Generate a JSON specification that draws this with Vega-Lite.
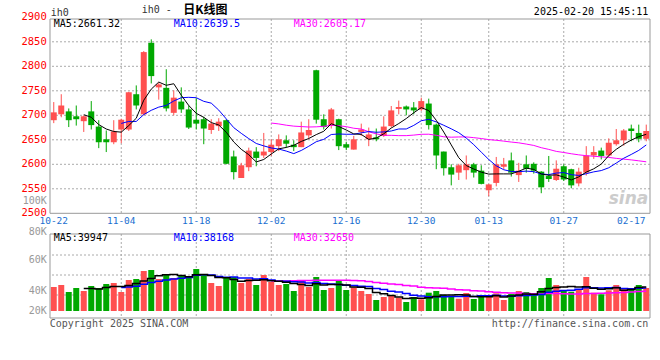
{
"$schema": "https://vega.github.io/schema/vega-lite/v6.json",
"width": 600, "height": 299,
"autosize": "none",
"padding": {"left": 50, "top": 19, "right": 10, "bottom": 42},
"background": "#ffffff",
"config": {"view": {"stroke": null}, "text": {"font": "DejaVu Sans Mono"}},
"datasets": {
"k": [
{"d":"2024-10-22","o":2690,"h":2727,"l":2684,"c":2706,"v":39720},
{"d":"2024-10-23","o":2702,"h":2743,"l":2696,"c":2720,"v":43030},
{"d":"2024-10-24","o":2708,"h":2714,"l":2676,"c":2690,"v":31445},
{"d":"2024-10-25","o":2698,"h":2720,"l":2679,"c":2692,"v":38065},
{"d":"2024-10-28","o":2688,"h":2700,"l":2666,"c":2698,"v":33100,"m5":2701.2,"vm5":37072},
{"d":"2024-10-29","o":2708,"h":2729,"l":2671,"c":2680,"v":41375,"m5":2696.0,"vm5":37403},
{"d":"2024-10-30","o":2677,"h":2690,"l":2633,"c":2645,"v":38065,"m5":2681.0,"vm5":36410},
{"d":"2024-10-31","o":2651,"h":2669,"l":2625,"c":2645,"v":44685,"m5":2672.0,"vm5":39058},
{"d":"2024-11-01","o":2645,"h":2690,"l":2641,"c":2667,"v":46340,"m5":2667.0,"vm5":40713},
{"d":"2024-11-04","o":2671,"h":2693,"l":2643,"c":2691,"v":31445,"m5":2665.6,"m10":2683.4,"vm5":40382,"vm10":38727},
{"d":"2024-11-05","o":2671,"h":2748,"l":2668,"c":2747,"v":51305,"m5":2679.0,"m10":2687.5,"vm5":42368,"vm10":39886},
{"d":"2024-11-06","o":2743,"h":2761,"l":2712,"c":2720,"v":52960,"m5":2694.0,"m10":2687.5,"vm5":45347,"vm10":40879},
{"d":"2024-11-07","o":2702,"h":2831,"l":2700,"c":2829,"v":66200,"m5":2730.8,"m10":2701.4,"vm5":49650,"vm10":44354},
{"d":"2024-11-08","o":2848,"h":2855,"l":2765,"c":2780,"v":67855,"m5":2753.4,"m10":2710.2,"vm5":53953,"vm10":47333},
{"d":"2024-11-11","o":2757,"h":2767,"l":2732,"c":2763,"v":52960,"m5":2767.8,"m10":2716.7,"vm5":58256,"vm10":49319},
{"d":"2024-11-12","o":2756,"h":2794,"l":2708,"c":2714,"v":59580,"m5":2761.2,"m10":2720.1,"vm5":59911,"vm10":51140},
{"d":"2024-11-13","o":2705,"h":2751,"l":2700,"c":2736,"v":54615,"m5":2764.4,"m10":2729.2,"vm5":60242,"vm10":52795},
{"d":"2024-11-14","o":2728,"h":2757,"l":2705,"c":2712,"v":57925,"m5":2741.0,"m10":2735.9,"vm5":58587,"vm10":54119},
{"d":"2024-11-15","o":2712,"h":2720,"l":2672,"c":2675,"v":57925,"m5":2720.0,"m10":2736.7,"vm5":56601,"vm10":55277},
{"d":"2024-11-18","o":2691,"h":2735,"l":2671,"c":2683,"v":69510,"m5":2704.0,"m10":2735.9,"vm5":59911,"vm10":59084},
{"d":"2024-11-19","o":2692,"h":2697,"l":2641,"c":2673,"v":61235,"m5":2695.8,"m10":2728.5,"vm5":60242,"vm10":60077},
{"d":"2024-11-20","o":2670,"h":2692,"l":2662,"c":2683,"v":46340,"m5":2685.2,"m10":2724.8,"vm5":58587,"vm10":59415},
{"d":"2024-11-21","o":2678,"h":2694,"l":2668,"c":2687,"v":41375,"m5":2680.2,"m10":2710.6,"vm5":55277,"vm10":56932},
{"d":"2024-11-22","o":2690,"h":2692,"l":2600,"c":2601,"v":56270,"m5":2665.4,"m10":2692.7,"vm5":54946,"vm10":55774},
{"d":"2024-11-25","o":2616,"h":2628,"l":2569,"c":2584,"v":56270,"m5":2645.6,"m10":2674.8,"vm5":52298,"vm10":56105},
{"d":"2024-11-26","o":2572,"h":2603,"l":2572,"c":2598,"v":46340,"m5":2630.6,"m10":2663.2,"vm5":49319,"vm10":54781},
{"d":"2024-11-27","o":2594,"h":2634,"l":2586,"c":2628,"v":52960,"m5":2619.6,"m10":2652.4,"vm5":50643,"vm10":54615},
{"d":"2024-11-28","o":2626,"h":2635,"l":2596,"c":2613,"v":43030,"m5":2604.8,"m10":2642.5,"vm5":50974,"vm10":53126},
{"d":"2024-11-29","o":2618,"h":2664,"l":2613,"c":2626,"v":59580,"m5":2609.8,"m10":2637.6,"vm5":51636,"vm10":53291},
{"d":"2024-12-02","o":2625,"h":2651,"l":2617,"c":2640,"v":47995,"m5":2621.0,"m10":2633.3,"m30":2684.2,"vm5":49981,"vm10":51140,"vm30":49650},
{"d":"2024-12-03","o":2637,"h":2661,"l":2627,"c":2651,"v":43030,"m5":2631.6,"m10":2631.1,"m30":2682.4,"vm5":49319,"vm10":49319,"vm30":49766},
{"d":"2024-12-04","o":2649,"h":2659,"l":2634,"c":2642,"v":44685,"m5":2634.4,"m10":2627.0,"m30":2679.8,"vm5":47664,"vm10":49154,"vm30":49816},
{"d":"2024-12-05","o":2640,"h":2649,"l":2627,"c":2635,"v":33100,"m5":2638.8,"m10":2621.8,"m30":2677.9,"vm5":45678,"vm10":48326,"vm30":49865},
{"d":"2024-12-06","o":2635,"h":2687,"l":2635,"c":2665,"v":51305,"m5":2646.6,"m10":2628.2,"m30":2677.0,"vm5":44023,"vm10":47830,"vm30":50312},
{"d":"2024-12-09","o":2659,"h":2692,"l":2651,"c":2670,"v":39720,"m5":2652.6,"m10":2636.8,"m30":2676.1,"vm5":42368,"vm10":46175,"vm30":50527},
{"d":"2024-12-10","o":2792,"h":2793,"l":2683,"c":2691,"v":56270,"m5":2660.6,"m10":2646.1,"m30":2676.5,"vm5":45016,"vm10":47168,"vm30":51024},
{"d":"2024-12-11","o":2692,"h":2702,"l":2671,"c":2676,"v":34755,"m5":2667.4,"m10":2650.9,"m30":2677.5,"vm5":43030,"vm10":45347,"vm30":50924},
{"d":"2024-12-12","o":2679,"h":2715,"l":2673,"c":2712,"v":38065,"m5":2682.8,"m10":2660.8,"m30":2679.7,"vm5":44023,"vm10":44851,"vm30":50693},
{"d":"2024-12-13","o":2692,"h":2693,"l":2629,"c":2637,"v":51305,"m5":2677.2,"m10":2661.9,"m30":2678.7,"vm5":44023,"vm10":44023,"vm30":50858},
{"d":"2024-12-16","o":2641,"h":2646,"l":2629,"c":2634,"v":34755,"m5":2670.0,"m10":2661.3,"m30":2676.8,"vm5":43030,"vm10":42699,"vm30":50974},
{"d":"2024-12-17","o":2630,"h":2658,"l":2630,"c":2651,"v":39224,"m5":2662.0,"m10":2661.3,"m30":2673.6,"vm5":39621,"vm10":42318,"vm30":50577},
{"d":"2024-12-18","o":2666,"h":2683,"l":2658,"c":2671,"v":33100,"m5":2661.0,"m10":2664.2,"m30":2672.0,"vm5":39290,"vm10":41160,"vm30":49915},
{"d":"2024-12-19","o":2651,"h":2675,"l":2637,"c":2661,"v":28135,"m5":2650.8,"m10":2666.8,"m30":2666.4,"vm5":37304,"vm10":40663,"vm30":48640},
{"d":"2024-12-20","o":2655,"h":2673,"l":2647,"c":2651,"v":18205,"m5":2653.6,"m10":2665.4,"m30":2662.1,"vm5":30684,"vm10":37353,"vm30":46985},
{"d":"2024-12-23","o":2658,"h":2698,"l":2656,"c":2677,"v":23170,"m5":2662.2,"m10":2666.1,"m30":2659.2,"vm5":28367,"vm10":35698,"vm30":45992},
{"d":"2024-12-24","o":2678,"h":2719,"l":2675,"c":2710,"v":25322,"m5":2674.0,"m10":2668.0,"m30":2659.1,"vm5":25586,"vm10":32604,"vm30":44851},
{"d":"2024-12-25","o":2713,"h":2730,"l":2702,"c":2717,"v":22012,"m5":2683.2,"m10":2672.1,"m30":2658.5,"vm5":23369,"vm10":31329,"vm30":43758},
{"d":"2024-12-26","o":2718,"h":2720,"l":2700,"c":2712,"v":14895,"m5":2693.4,"m10":2672.1,"m30":2658.5,"vm5":20721,"vm10":29012,"vm30":42335},
{"d":"2024-12-27","o":2716,"h":2727,"l":2702,"c":2710,"v":23170,"m5":2705.2,"m10":2679.4,"m30":2659.6,"vm5":21714,"vm10":26199,"vm30":41176},
{"d":"2024-12-30","o":2712,"h":2736,"l":2709,"c":2729,"v":19364,"m5":2715.6,"m10":2688.9,"m30":2661.2,"vm5":20952,"vm10":24660,"vm30":39505},
{"d":"2024-12-31","o":2724,"h":2734,"l":2671,"c":2680,"v":30287,"m5":2709.6,"m10":2691.8,"m30":2661.4,"vm5":21945,"vm10":23766,"vm30":38462},
{"d":"2025-01-02","o":2681,"h":2683,"l":2590,"c":2618,"v":33100,"m5":2689.8,"m10":2686.5,"m30":2659.2,"vm5":24163,"vm10":23766,"vm30":38032},
{"d":"2025-01-03","o":2626,"h":2626,"l":2577,"c":2592,"v":26480,"m5":2665.8,"m10":2679.6,"m30":2656.1,"vm5":26480,"vm10":23600,"vm30":37535},
{"d":"2025-01-06","o":2594,"h":2600,"l":2557,"c":2579,"v":23667,"m5":2639.6,"m10":2672.4,"m30":2655.3,"vm5":26579,"vm10":24146,"vm30":36443},
{"d":"2025-01-07","o":2583,"h":2601,"l":2568,"c":2598,"v":20357,"m5":2613.4,"m10":2664.5,"m30":2655.8,"vm5":26778,"vm10":23865,"vm30":35252},
{"d":"2025-01-08","o":2588,"h":2618,"l":2569,"c":2600,"v":29790,"m5":2597.4,"m10":2653.5,"m30":2655.9,"vm5":26679,"vm10":24312,"vm30":34689},
{"d":"2025-01-09","o":2600,"h":2603,"l":2573,"c":2583,"v":19860,"m5":2590.4,"m10":2640.1,"m30":2654.4,"vm5":24031,"vm10":24097,"vm30":33597},
{"d":"2025-01-10","o":2587,"h":2598,"l":2559,"c":2560,"v":24329,"m5":2584.0,"m10":2624.9,"m30":2652.6,"vm5":23600,"vm10":25040,"vm30":32968},
{"d":"2025-01-13","o":2547,"h":2560,"l":2535,"c":2559,"v":23667,"m5":2580.0,"m10":2609.8,"m30":2650.4,"vm5":23600,"vm10":25090,"vm30":31776},
{"d":"2025-01-14","o":2562,"h":2615,"l":2555,"c":2600,"v":29294,"m5":2580.4,"m10":2596.9,"m30":2649.0,"vm5":25388,"vm10":26083,"vm30":31147},
{"d":"2025-01-15","o":2595,"h":2613,"l":2590,"c":2600,"v":18205,"m5":2580.4,"m10":2588.9,"m30":2647.3,"vm5":23071,"vm10":24875,"vm30":30320},
{"d":"2025-01-16","o":2608,"h":2624,"l":2575,"c":2583,"v":28135,"m5":2580.4,"m10":2585.4,"m30":2645.4,"vm5":24726,"vm10":24378,"vm30":29773},
{"d":"2025-01-17","o":2578,"h":2603,"l":2564,"c":2587,"v":33100,"m5":2585.8,"m10":2584.9,"m30":2643.8,"vm5":26480,"vm10":25040,"vm30":29773},
{"d":"2025-01-20","o":2600,"h":2618,"l":2583,"c":2591,"v":31445,"m5":2592.2,"m10":2586.1,"m30":2641.3,"vm5":28036,"vm10":25818,"vm30":29111},
{"d":"2025-01-21","o":2601,"h":2604,"l":2581,"c":2587,"v":28135,"m5":2589.6,"m10":2585.0,"m30":2638.5,"vm5":27804,"vm10":26596,"vm30":28714},
{"d":"2025-01-22","o":2585,"h":2586,"l":2541,"c":2553,"v":38065,"m5":2580.2,"m10":2580.3,"m30":2633.9,"vm5":31776,"vm10":27423,"vm30":28118},
{"d":"2025-01-23","o":2576,"h":2617,"l":2564,"c":2570,"v":54615,"m5":2577.6,"m10":2579.0,"m30":2630.4,"vm5":37072,"vm10":30899,"vm30":28780},
{"d":"2025-01-24","o":2568,"h":2608,"l":2566,"c":2591,"v":43030,"m5":2578.4,"m10":2582.1,"m30":2626.4,"vm5":39058,"vm10":32769,"vm30":28946},
{"d":"2025-01-27","o":2596,"h":2600,"l":2566,"c":2569,"v":34755,"m5":2574.0,"m10":2583.1,"m30":2624.1,"vm5":39720,"vm10":33878,"vm30":28383},
{"d":"2025-02-05","o":2590,"h":2591,"l":2551,"c":2557,"v":31942,"m5":2568.0,"m10":2578.8,"m30":2621.5,"vm5":40481,"vm10":34143,"vm30":28301},
{"d":"2025-02-06","o":2561,"h":2593,"l":2555,"c":2585,"v":34755,"m5":2574.4,"m10":2577.3,"m30":2619.3,"vm5":39819,"vm10":35798,"vm30":28152},
{"d":"2025-02-07","o":2583,"h":2637,"l":2577,"c":2618,"v":56270,"m5":2584.0,"m10":2580.8,"m30":2617.6,"vm5":40150,"vm10":38611,"vm30":28913},
{"d":"2025-02-10","o":2618,"h":2637,"l":2611,"c":2625,"v":30287,"m5":2590.8,"m10":2584.6,"m30":2616.4,"vm5":37602,"vm10":38330,"vm30":28996},
{"d":"2025-02-11","o":2628,"h":2634,"l":2610,"c":2617,"v":27639,"m5":2600.4,"m10":2587.2,"m30":2615.2,"vm5":36178,"vm10":37949,"vm30":29310},
{"d":"2025-02-12","o":2618,"h":2653,"l":2615,"c":2644,"v":34259,"m5":2617.8,"m10":2592.9,"m30":2614.1,"vm5":36642,"vm10":38562,"vm30":29674},
{"d":"2025-02-13","o":2641,"h":2672,"l":2638,"c":2649,"v":43030,"m5":2630.6,"m10":2602.5,"m30":2612.1,"vm5":38297,"vm10":39058,"vm30":30270},
{"d":"2025-02-14","o":2649,"h":2672,"l":2638,"c":2669,"v":35914,"m5":2640.8,"m10":2612.4,"m30":2610.5,"vm5":34225,"vm10":37188,"vm30":30733},
{"d":"2025-02-17","o":2673,"h":2681,"l":2647,"c":2668,"v":38065,"m5":2649.4,"m10":2620.1,"m30":2609.0,"vm5":35781,"vm10":36691,"vm30":31495},
{"d":"2025-02-18","o":2664,"h":2681,"l":2645,"c":2652,"v":43030,"m5":2656.4,"m10":2628.4,"m30":2607.1,"vm5":38859,"vm10":37519,"vm30":32157},
{"d":"2025-02-19","o":2652,"h":2681,"l":2647,"c":2668,"v":38065,"m5":2661.2,"m10":2639.5,"m30":2605.1,"vm5":39621,"vm10":38131,"vm30":32786}
],
"g": [{"d":"2024-11-04"},{"d":"2024-11-18"},{"d":"2024-12-02"},{"d":"2024-12-16"},{"d":"2024-12-30"},{"d":"2025-01-13"},{"d":"2025-01-27"}],
"xl": [{"d":"2024-10-22","t":"10-22"},{"d":"2024-11-04","t":"11-04"},{"d":"2024-11-18","t":"11-18"},{"d":"2024-12-02","t":"12-02"},{"d":"2024-12-16","t":"12-16"},{"d":"2024-12-30","t":"12-30"},{"d":"2025-01-13","t":"01-13"},{"d":"2025-01-27","t":"01-27"},{"d":"2025-02-17","t":"02-17"}],
"pl": [{"p":2500},{"p":2550},{"p":2600},{"p":2650},{"p":2700},{"p":2750},{"p":2800},{"p":2850},{"p":2900}],
"pg": [{"p":2550},{"p":2600},{"p":2650},{"p":2700},{"p":2750},{"p":2800},{"p":2850}],
"vg": [{"v":26480},{"v":59580},{"v":92680}],
"vl": [{"t":"80K","v":130745},{"t":"60K","v":84405},{"t":"40K","v":33597},{"t":"20K","v":0}]
},
"data": {"name": "k"},
"layer": [
{"layer": [
 {"data": {"name": "pg"}, "mark": {"type": "rule", "color": "#aaaaaa", "strokeDash": [2, 2], "strokeWidth": 1},
  "encoding": {"y": {"field": "p", "type": "quantitative", "scale": {"domain": [2500, 2900], "range": [194.3, -1.7], "nice": false, "zero": false}, "axis": null}}},
 {"data": {"name": "g"}, "mark": {"type": "rule", "color": "#aaaaaa", "strokeDash": [2, 2], "strokeWidth": 1},
  "encoding": {"x": {"field": "d", "type": "ordinal", "scale": {"paddingInner": 0.2, "paddingOuter": 0.1}, "axis": null},
   "y": {"datum": 2896.5, "type": "quantitative", "scale": {"domain": [2500, 2900], "range": [194.3, -1.7], "nice": false, "zero": false}, "axis": null},
   "y2": {"datum": 2500}}},
 {"mark": {"type": "rule", "strokeWidth": 1},
  "encoding": {"x": {"field": "d", "type": "ordinal", "scale": {"paddingInner": 0.2, "paddingOuter": 0.1}, "axis": null},
   "y": {"field": "l", "type": "quantitative", "scale": {"domain": [2500, 2900], "range": [194.3, -1.7], "nice": false, "zero": false}, "axis": null},
   "y2": {"field": "h"},
   "color": {"condition": {"test": "datum.c >= datum.o", "value": "#ff5050"}, "value": "#00a800"}}},
 {"mark": {"type": "bar"},
  "encoding": {"x": {"field": "d", "type": "ordinal", "scale": {"paddingInner": 0.2, "paddingOuter": 0.1}, "axis": null},
   "y": {"field": "o", "type": "quantitative", "scale": {"domain": [2500, 2900], "range": [194.3, -1.7], "nice": false, "zero": false}, "axis": null},
   "y2": {"field": "c"},
   "color": {"condition": {"test": "datum.c >= datum.o", "value": "#ff5050"}, "value": "#00a800"}}},
 {"mark": {"type": "line", "color": "#ff00ff", "strokeWidth": 1},
  "encoding": {"x": {"field": "d", "type": "ordinal", "scale": {"paddingInner": 0.2, "paddingOuter": 0.1}, "axis": null},
   "y": {"field": "m30", "type": "quantitative", "scale": {"domain": [2500, 2900], "range": [194.3, -1.7], "nice": false, "zero": false}, "axis": null}}},
 {"mark": {"type": "line", "color": "#0000ff", "strokeWidth": 1},
  "encoding": {"x": {"field": "d", "type": "ordinal", "scale": {"paddingInner": 0.2, "paddingOuter": 0.1}, "axis": null},
   "y": {"field": "m10", "type": "quantitative", "scale": {"domain": [2500, 2900], "range": [194.3, -1.7], "nice": false, "zero": false}, "axis": null}}},
 {"mark": {"type": "line", "color": "#000000", "strokeWidth": 1},
  "encoding": {"x": {"field": "d", "type": "ordinal", "scale": {"paddingInner": 0.2, "paddingOuter": 0.1}, "axis": null},
   "y": {"field": "m5", "type": "quantitative", "scale": {"domain": [2500, 2900], "range": [194.3, -1.7], "nice": false, "zero": false}, "axis": null}}},
 {"data": {"values": [{}]}, "mark": {"type": "rect", "fill": "transparent", "stroke": "#999999", "strokeWidth": 1},
  "encoding": {"y": {"datum": 2896.5, "type": "quantitative", "scale": {"domain": [2500, 2900], "range": [194.3, -1.7], "nice": false, "zero": false}, "axis": null},
   "y2": {"datum": 2500}}},
 {"data": {"name": "pl"}, "mark": {"type": "text", "align": "right", "baseline": "middle", "fontSize": 10.5, "color": "#ff0000", "dx": -7},
  "encoding": {"x": {"datum": "2024-10-22", "type": "ordinal", "scale": {"paddingInner": 0.2, "paddingOuter": 0.1}, "axis": null},
   "y": {"field": "p", "type": "quantitative", "scale": {"domain": [2500, 2900], "range": [194.3, -1.7], "nice": false, "zero": false}, "axis": null},
   "text": {"field": "p", "type": "quantitative", "format": "d"}}},
 {"data": {"name": "xl"}, "mark": {"type": "text", "align": "center", "baseline": "middle", "fontSize": 9.5, "color": "#1a6fd0"},
  "encoding": {"x": {"field": "d", "type": "ordinal", "scale": {"paddingInner": 0.2, "paddingOuter": 0.1}, "axis": null},
   "y": {"datum": 2483.5, "type": "quantitative", "scale": {"domain": [2500, 2900], "range": [194.3, -1.7], "nice": false, "zero": false}, "axis": null},
   "text": {"field": "t"}}},
 {"data": {"values": [{"t": "ih0"}]}, "mark": {"type": "text", "align": "left", "baseline": "middle", "fontSize": 10, "color": "#333333", "dx": -3},
  "encoding": {"x": {"datum": "2024-10-22", "type": "ordinal", "scale": {"paddingInner": 0.2, "paddingOuter": 0.1}, "axis": null},
   "y": {"datum": 2909.4, "type": "quantitative", "scale": {"domain": [2500, 2900], "range": [194.3, -1.7], "nice": false, "zero": false}, "axis": null},
   "text": {"field": "t"}}},
 {"data": {"values": [{"t": "ih0 -"}]}, "mark": {"type": "text", "align": "left", "baseline": "middle", "fontSize": 10, "color": "#333333", "dx": -2},
  "encoding": {"x": {"datum": "2024-11-07", "type": "ordinal", "scale": {"paddingInner": 0.2, "paddingOuter": 0.1}, "axis": null},
   "y": {"datum": 2914.3, "type": "quantitative", "scale": {"domain": [2500, 2900], "range": [194.3, -1.7], "nice": false, "zero": false}, "axis": null},
   "text": {"field": "t"}}},
 {"data": {"values": [{"t": "日K线图"}]}, "mark": {"type": "text", "align": "left", "baseline": "middle", "fontSize": 12, "fontWeight": "bold", "font": "Noto Sans CJK SC", "color": "#000000", "dx": 2},
  "encoding": {"x": {"datum": "2024-11-14", "type": "ordinal", "scale": {"paddingInner": 0.2, "paddingOuter": 0.1}, "axis": null},
   "y": {"datum": 2914.3, "type": "quantitative", "scale": {"domain": [2500, 2900], "range": [194.3, -1.7], "nice": false, "zero": false}, "axis": null},
   "text": {"field": "t"}}},
 {"data": {"values": [{"t": "2025-02-20 15:45:11"}]}, "mark": {"type": "text", "align": "right", "baseline": "middle", "fontSize": 10, "color": "#000000", "dx": 2},
  "encoding": {"x": {"datum": "2025-02-19", "type": "ordinal", "scale": {"paddingInner": 0.2, "paddingOuter": 0.1}, "axis": null},
   "y": {"datum": 2911.8, "type": "quantitative", "scale": {"domain": [2500, 2900], "range": [194.3, -1.7], "nice": false, "zero": false}, "axis": null},
   "text": {"field": "t"}}},
 {"data": {"values": [{"t": "MA5:2661.32"}]}, "mark": {"type": "text", "align": "left", "baseline": "middle", "fontSize": 10, "color": "#000000"},
  "encoding": {"x": {"datum": "2024-10-22", "type": "ordinal", "scale": {"paddingInner": 0.2, "paddingOuter": 0.1}, "axis": null},
   "y": {"datum": 2886.5, "type": "quantitative", "scale": {"domain": [2500, 2900], "range": [194.3, -1.7], "nice": false, "zero": false}, "axis": null},
   "text": {"field": "t"}}},
 {"data": {"values": [{"t": "MA10:2639.5"}]}, "mark": {"type": "text", "align": "left", "baseline": "middle", "fontSize": 10, "color": "#0000ff"},
  "encoding": {"x": {"datum": "2024-11-13", "type": "ordinal", "scale": {"paddingInner": 0.2, "paddingOuter": 0.1}, "axis": null},
   "y": {"datum": 2886.5, "type": "quantitative", "scale": {"domain": [2500, 2900], "range": [194.3, -1.7], "nice": false, "zero": false}, "axis": null},
   "text": {"field": "t"}}},
 {"data": {"values": [{"t": "MA30:2605.17"}]}, "mark": {"type": "text", "align": "left", "baseline": "middle", "fontSize": 10, "color": "#ff00ff"},
  "encoding": {"x": {"datum": "2024-12-05", "type": "ordinal", "scale": {"paddingInner": 0.2, "paddingOuter": 0.1}, "axis": null},
   "y": {"datum": 2886.5, "type": "quantitative", "scale": {"domain": [2500, 2900], "range": [194.3, -1.7], "nice": false, "zero": false}, "axis": null},
   "text": {"field": "t"}}},
 {"data": {"values": [{"t": "100K"}]}, "mark": {"type": "text", "align": "right", "baseline": "middle", "fontSize": 10, "color": "#999999", "dx": -7},
  "encoding": {"x": {"datum": "2024-10-22", "type": "ordinal", "scale": {"paddingInner": 0.2, "paddingOuter": 0.1}, "axis": null},
   "y": {"datum": 2526, "type": "quantitative", "scale": {"domain": [2500, 2900], "range": [194.3, -1.7], "nice": false, "zero": false}, "axis": null},
   "text": {"field": "t"}}},
 {"data": {"values": [{"t": "sina"}]}, "mark": {"type": "text", "align": "right", "baseline": "middle", "fontSize": 17, "fontWeight": "bold", "fontStyle": "italic", "font": "DejaVu Sans", "color": "#cccccc", "dx": 2},
  "encoding": {"x": {"datum": "2025-02-19", "type": "ordinal", "scale": {"paddingInner": 0.2, "paddingOuter": 0.1}, "axis": null},
   "y": {"datum": 2529, "type": "quantitative", "scale": {"domain": [2500, 2900], "range": [194.3, -1.7], "nice": false, "zero": false}, "axis": null},
   "text": {"field": "t"}}}
]},
{"layer": [
 {"data": {"name": "vg"}, "mark": {"type": "rule", "color": "#aaaaaa", "strokeDash": [2, 2], "strokeWidth": 1},
  "encoding": {"y": {"field": "v", "type": "quantitative", "scale": {"domain": [-11585, 127435], "range": [299, 215], "nice": false, "zero": false}, "axis": null}}},
 {"data": {"name": "g"}, "mark": {"type": "rule", "color": "#aaaaaa", "strokeDash": [2, 2], "strokeWidth": 1},
  "encoding": {"x": {"field": "d", "type": "ordinal", "scale": {"paddingInner": 0.2, "paddingOuter": 0.1}, "axis": null},
   "y": {"datum": 127435, "type": "quantitative", "scale": {"domain": [-11585, 127435], "range": [299, 215], "nice": false, "zero": false}, "axis": null},
   "y2": {"datum": -11585}}},
 {"mark": {"type": "bar"},
  "encoding": {"x": {"field": "d", "type": "ordinal", "scale": {"paddingInner": 0.2, "paddingOuter": 0.1}, "axis": null},
   "y": {"field": "v", "type": "quantitative", "scale": {"domain": [-11585, 127435], "range": [299, 215], "nice": false, "zero": false}, "axis": null},
   "y2": {"datum": 0},
   "color": {"condition": {"test": "datum.c >= datum.o", "value": "#ff5050"}, "value": "#00a800"}}},
 {"mark": {"type": "line", "color": "#ff00ff", "strokeWidth": 1.5, "interpolate": "step"},
  "encoding": {"x": {"field": "d", "type": "ordinal", "scale": {"paddingInner": 0.2, "paddingOuter": 0.1}, "axis": null},
   "y": {"field": "vm30", "type": "quantitative", "scale": {"domain": [-11585, 127435], "range": [299, 215], "nice": false, "zero": false}, "axis": null}}},
 {"mark": {"type": "line", "color": "#0000ff", "strokeWidth": 1.5, "interpolate": "step"},
  "encoding": {"x": {"field": "d", "type": "ordinal", "scale": {"paddingInner": 0.2, "paddingOuter": 0.1}, "axis": null},
   "y": {"field": "vm10", "type": "quantitative", "scale": {"domain": [-11585, 127435], "range": [299, 215], "nice": false, "zero": false}, "axis": null}}},
 {"mark": {"type": "line", "color": "#000000", "strokeWidth": 1.5, "interpolate": "step"},
  "encoding": {"x": {"field": "d", "type": "ordinal", "scale": {"paddingInner": 0.2, "paddingOuter": 0.1}, "axis": null},
   "y": {"field": "vm5", "type": "quantitative", "scale": {"domain": [-11585, 127435], "range": [299, 215], "nice": false, "zero": false}, "axis": null}}},
 {"data": {"values": [{}]}, "mark": {"type": "rect", "fill": "transparent", "stroke": "#999999", "strokeWidth": 1},
  "encoding": {"y": {"datum": 127435, "type": "quantitative", "scale": {"domain": [-11585, 127435], "range": [299, 215], "nice": false, "zero": false}, "axis": null},
   "y2": {"datum": -11585}}},
 {"data": {"values": [{"t": "MA5:39947"}]}, "mark": {"type": "text", "align": "left", "baseline": "middle", "fontSize": 10, "color": "#000000"},
  "encoding": {"x": {"datum": "2024-10-22", "type": "ordinal", "scale": {"paddingInner": 0.2, "paddingOuter": 0.1}, "axis": null},
   "y": {"datum": 120319, "type": "quantitative", "scale": {"domain": [-11585, 127435], "range": [299, 215], "nice": false, "zero": false}, "axis": null},
   "text": {"field": "t"}}},
 {"data": {"values": [{"t": "MA10:38168"}]}, "mark": {"type": "text", "align": "left", "baseline": "middle", "fontSize": 10, "color": "#0000ff"},
  "encoding": {"x": {"datum": "2024-11-13", "type": "ordinal", "scale": {"paddingInner": 0.2, "paddingOuter": 0.1}, "axis": null},
   "y": {"datum": 120319, "type": "quantitative", "scale": {"domain": [-11585, 127435], "range": [299, 215], "nice": false, "zero": false}, "axis": null},
   "text": {"field": "t"}}},
 {"data": {"values": [{"t": "MA30:32650"}]}, "mark": {"type": "text", "align": "left", "baseline": "middle", "fontSize": 10, "color": "#ff00ff"},
  "encoding": {"x": {"datum": "2024-12-05", "type": "ordinal", "scale": {"paddingInner": 0.2, "paddingOuter": 0.1}, "axis": null},
   "y": {"datum": 120319, "type": "quantitative", "scale": {"domain": [-11585, 127435], "range": [299, 215], "nice": false, "zero": false}, "axis": null},
   "text": {"field": "t"}}},
 {"data": {"name": "vl"}, "mark": {"type": "text", "align": "right", "baseline": "middle", "fontSize": 10, "color": "#999999", "dx": -7},
  "encoding": {"x": {"datum": "2024-10-22", "type": "ordinal", "scale": {"paddingInner": 0.2, "paddingOuter": 0.1}, "axis": null},
   "y": {"field": "v", "type": "quantitative", "scale": {"domain": [-11585, 127435], "range": [299, 215], "nice": false, "zero": false}, "axis": null},
   "text": {"field": "t"}}},
 {"data": {"values": [{"t": "Copyright 2025 SINA.COM"}]}, "mark": {"type": "text", "align": "left", "baseline": "middle", "fontSize": 10, "color": "#555555", "dx": -4},
  "encoding": {"x": {"datum": "2024-10-22", "type": "ordinal", "scale": {"paddingInner": 0.2, "paddingOuter": 0.1}, "axis": null},
   "y": {"datum": -20688, "type": "quantitative", "scale": {"domain": [-11585, 127435], "range": [299, 215], "nice": false, "zero": false}, "axis": null},
   "text": {"field": "t"}}},
 {"data": {"values": [{"t": "http://finance.sina.com.cn"}]}, "mark": {"type": "text", "align": "right", "baseline": "middle", "fontSize": 10, "color": "#555555", "dx": 2},
  "encoding": {"x": {"datum": "2025-02-19", "type": "ordinal", "scale": {"paddingInner": 0.2, "paddingOuter": 0.1}, "axis": null},
   "y": {"datum": -20688, "type": "quantitative", "scale": {"domain": [-11585, 127435], "range": [299, 215], "nice": false, "zero": false}, "axis": null},
   "text": {"field": "t"}}}
]}
],
"resolve": {"scale": {"y": "independent"}}
}
